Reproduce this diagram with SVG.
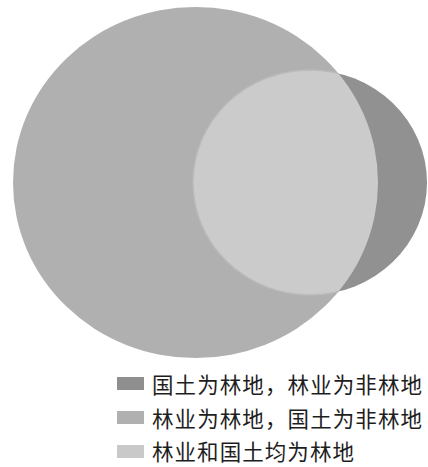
<svg xmlns="http://www.w3.org/2000/svg" width="428" height="467" viewBox="0 0 428 467">
<style>
.lbl{font-family:"Noto Sans CJK SC","Noto Sans CJK JP",sans-serif;font-size:21.5px;fill:#1e1e1e}
</style>
<defs>
<clipPath id="bigClip"><ellipse cx="195.5" cy="182.5" rx="182.5" ry="175.5"/></clipPath>
</defs>
<rect width="428" height="467" fill="#ffffff"/>
<g id="forestry">
<ellipse cx="195.5" cy="182.5" rx="182.5" ry="175.5" fill="#b0b0b0"/>
</g>
<g id="land">
<ellipse cx="310" cy="182.5" rx="117" ry="112.5" fill="#919191"/>
</g>
<g id="both">
<ellipse cx="310" cy="182.5" rx="117" ry="112.5" fill="#cbcbcb" stroke="#bababa" stroke-width="1.5" clip-path="url(#bigClip)"/>
</g>
<g id="legend">
<g id="legend1"><rect x="117" y="377" width="27" height="13" fill="#8f8f8f"/><text class="lbl" x="152" y="393" textLength="270" lengthAdjust="spacing">国土为林地，林业为非林地</text></g>
<g id="legend2"><rect x="117" y="411" width="27" height="13" fill="#b0b0b0"/><text class="lbl" x="152" y="427" textLength="270" lengthAdjust="spacing">林业为林地，国土为非林地</text></g>
<g id="legend3"><rect x="117" y="445" width="27" height="13" fill="#c9c9c9"/><text class="lbl" x="152" y="460" textLength="202" lengthAdjust="spacing">林业和国土均为林地</text></g>
</g>
</svg>
